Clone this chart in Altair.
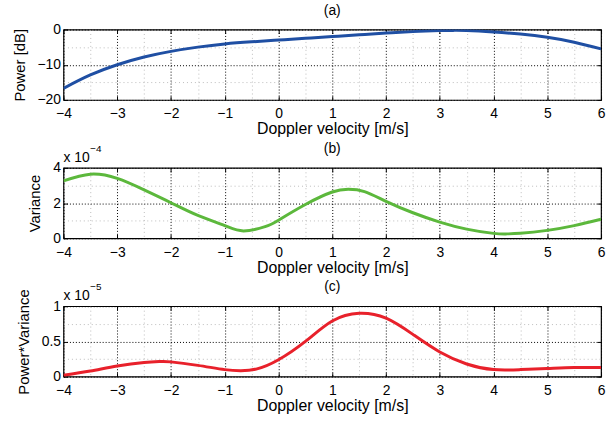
import altair as alt
import pandas as pd

# ---- data ----
vel_a = [-4, -3.5, -3, -2.5, -2, -1.5, -1, -0.5, 0, 0.5, 1, 1.5, 2, 2.5, 3, 3.25, 3.5, 4, 4.5, 5, 5.5, 6]
power_db = [-16.7, -12.9, -10.0, -7.8, -6.2, -5.0, -4.1, -3.5, -3.0, -2.5, -2.0, -1.5, -1.0, -0.6, -0.3, -0.25, -0.3, -0.7, -1.3, -2.2, -3.6, -5.5]

vel_b = [-4, -3.5, -3, -2.5, -2, -1.5, -1, -0.65, -0.25, 0, 0.5, 1, 1.3, 1.6, 2, 2.5, 3, 3.5, 4, 4.25, 4.5, 5, 5.5, 6]
variance_e4 = [3.26, 3.64, 3.4, 2.75, 2.02, 1.3, 0.72, 0.42, 0.66, 1.03, 1.92, 2.63, 2.78, 2.65, 2.1, 1.45, 0.92, 0.52, 0.28, 0.25, 0.28, 0.45, 0.72, 1.08]

vel_c = [-4, -3.5, -3, -2.5, -2.2, -2, -1.5, -1, -0.7, -0.4, 0, 0.5, 1, 1.5, 2, 2.5, 3, 3.5, 4, 4.5, 5, 5.5, 6]
pv_e5 = [0.02, 0.08, 0.15, 0.2, 0.215, 0.21, 0.16, 0.1, 0.085, 0.11, 0.24, 0.5, 0.79, 0.9, 0.83, 0.6, 0.35, 0.18, 0.1, 0.1, 0.115, 0.13, 0.13]

x_grid = [-4 + 0.5 * i for i in range(21)]
x_major = list(range(-4, 7))

W, H = 542, 71
LEFT, TOP = 62, 26
FONT = "Liberation Sans"


def grid_props(major_step):
    test = f"abs(datum.value / {major_step} - round(datum.value / {major_step})) < 1e-6"
    return dict(
        grid=True,
        gridColor={"condition": {"test": test, "value": "#000000"}, "value": "#bcbcbc"},
        gridDash={"condition": {"test": test, "value": [1, 2]}, "value": [1, 3]},
        gridWidth=1,
        labelExpr=f"{test} ? format(datum.value, '~g') : ''",
    )


def anchor(x, y):
    return alt.Chart(pd.DataFrame({"a": [0]})).mark_point(
        opacity=0, size=1, shape="square", filled=True
    ).encode(x=alt.value(x), y=alt.value(y))


def panel(vel, vals, color, ytitle, ydomain, ygrid, ymajor, ystep, label, exponent=None, anchors=()):
    df = pd.DataFrame({"v": vel, "y": vals})
    xsc = alt.Scale(domain=[-4, 6], nice=False, zero=False)
    ysc = alt.Scale(domain=ydomain, nice=False, zero=False)

    main = alt.Chart(df).mark_line(color=color, strokeWidth=3, interpolate="natural", clip=True).encode(
        x=alt.X("v:Q", scale=xsc, axis=alt.Axis(
            values=x_grid, ticks=False, domain=False, title="Doppler velocity [m/s]",
            labelFontSize=14, titleFontSize=16, labelPadding=7, titlePadding=0,
            labelFlush=False, labelOverlap=False,
            labelColor="black", titleColor="black", titleFontWeight="normal",
            labelFont=FONT, titleFont=FONT, **grid_props(1))),
        y=alt.Y("y:Q", scale=ysc, axis=alt.Axis(
            values=ygrid, ticks=False, domain=False, title=ytitle,
            labelFontSize=14, titleFontSize=15, labelPadding=3, titlePadding=10,
            labelFlush=False, labelOverlap=False,
            labelColor="black", titleColor="black", titleFontWeight="normal",
            labelFont=FONT, titleFont=FONT, labelBaseline="middle", **grid_props(ystep))),
    )

    tick_common = dict(ticks=True, tickSize=4, tickColor="black", tickWidth=1,
                       labels=False, domain=False, grid=False, title=None)
    ticks1 = alt.Chart(df).mark_line(strokeOpacity=0).encode(
        x=alt.X("v:Q", scale=xsc, axis=alt.Axis(orient="top", offset=-H, values=x_major, **tick_common)),
        y=alt.Y("y:Q", scale=ysc, axis=alt.Axis(orient="right", offset=-W, values=ymajor, **tick_common)),
    )
    ticks2 = alt.Chart(df).mark_line(strokeOpacity=0).encode(
        x=alt.X("v:Q", scale=xsc, axis=alt.Axis(orient="bottom", offset=-H, values=x_major, **tick_common)),
        y=alt.Y("y:Q", scale=ysc, axis=alt.Axis(orient="left", offset=-W, values=ymajor, **tick_common)),
    )

    layers = [main, ticks1, ticks2]
    t = alt.Chart(pd.DataFrame({"t": [label]})).mark_text(
        font=FONT, fontSize=14, color="black", align="center", baseline="middle"
    ).encode(text="t:N", x=alt.value(W / 2), y=alt.value(-19))
    layers.append(t)
    if exponent is not None:
        e1 = alt.Chart(pd.DataFrame({"t": ["x 10"]})).mark_text(
            font=FONT, fontSize=14, color="black", align="left", baseline="middle"
        ).encode(text="t:N", x=alt.value(0), y=alt.value(-10))
        e2 = alt.Chart(pd.DataFrame({"t": [exponent]})).mark_text(
            font=FONT, fontSize=10, color="black", align="left", baseline="middle"
        ).encode(text="t:N", x=alt.value(27), y=alt.value(-19))
        layers += [e1, e2]
    for ax, ay in anchors:
        layers.append(anchor(ax, ay))

    return alt.layer(*layers).resolve_axis(x="independent", y="independent").properties(width=W, height=H)


pa = panel(vel_a, power_db, "#1f4fa3", "Power [dB]", [-20, 0], [-20, -15, -10, -5, 0], [-20, -10, 0], 10, "(a)",
           anchors=[(-LEFT, -TOP), (606 - LEFT, -TOP)])
pb = panel(vel_b, variance_e4, "#5cb83c", "Variance", [0, 4], [0, 1, 2, 3, 4], [0, 2, 4], 2, "(b)", "\u22124")
pc = panel(vel_c, pv_e5, "#e8212b", "Power*Variance", [0, 1], [0, 0.25, 0.5, 0.75, 1], [0, 0.5, 1], 0.5, "(c)", "\u22125",
           anchors=[(-LEFT, 421 - 305)])

chart = alt.vconcat(pa, pb, pc, spacing=68.5, bounds="flush").properties(
    padding=0,
    background="white",
).configure_view(stroke="black", strokeWidth=1.2)

chart.save("out.html", embed_options={"renderer": "svg", "actions": False})
